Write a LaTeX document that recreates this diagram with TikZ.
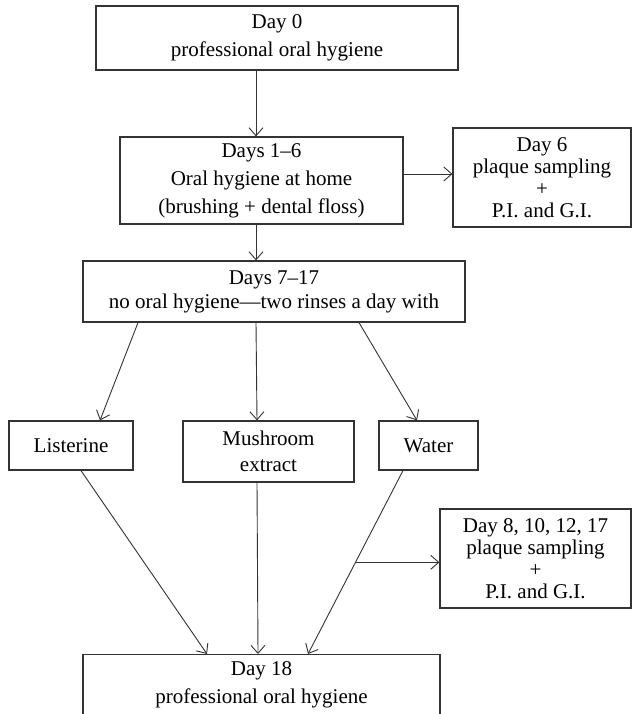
\documentclass[tikz,border=0pt]{standalone}
\usepackage{fontspec}
\setmainfont{Liberation Serif}
\usetikzlibrary{arrows.meta,calc}
\begin{document}
\begin{tikzpicture}[x=1pt,y=-1pt,
  box/.style={draw=black!80, line width=1.2pt, inner sep=0pt, align=center,
    font=\fontsize{21}{28}\selectfont},
  tight/.style={font=\fontsize{21}{22}\selectfont},
  arr/.style={draw=black!80, line width=0.9pt, -{Straight Barb[length=8pt,width=14pt]}},
  ln/.style={draw=black!80, line width=0.9pt}]
\useasboundingbox (0,0) rectangle (632,714);
\clip (0,0) rectangle (632,714);

\node[box, minimum width=362pt, minimum height=64pt] (top) at (277,38) {Day 0\\professional oral hygiene};
\node[box, minimum width=283pt, minimum height=87pt] (b2) at (261.5,180.5) {Days 1--6\\Oral hygiene at home\\(brushing + dental floss)};
\node[box, tight, minimum width=178pt, minimum height=99pt] (d6) at (542,177.5) {Day 6\\plaque sampling\\+\\P.I. and G.I.};
\node[box, font=\fontsize{21}{24}\selectfont, minimum width=382pt, minimum height=61pt] (b3) at (274,291.5) {Days 7--17\\no oral hygiene---two rinses a day with};
\node[box, minimum width=124pt, minimum height=49pt] (list) at (71,445.5) {Listerine};
\node[box, font=\fontsize{21}{26}\selectfont, minimum width=171pt, minimum height=61pt] (mush) at (268.5,451.5) {Mushroom\\extract};
\node[box, minimum width=99pt, minimum height=49pt] (water) at (428.5,445.5) {Water};
\node[box, tight, minimum width=191pt, minimum height=99pt] (d8) at (535.5,558.5) {Day 8, 10, 12, 17\\plaque sampling\\+\\P.I. and G.I.};
\node[box, anchor=north, minimum width=357pt, inner ysep=7pt, text depth=60pt] (d18) at (261.5,654) {Day 18\\professional oral hygiene};

\coordinate (cA) at (256,0);
\coordinate (cR) at (0,174);
\draw[arr] (top.south -| cA) -- (b2.north -| cA);
\draw[arr] (b2.east |- cR) -- (d6.west |- cR);
\draw[arr] (b2.south -| cA) -- (b3.north -| cA);

\coordinate (s1) at (138,0);
\coordinate (e1) at (100,0);
\coordinate (s3) at (359,0);
\coordinate (e3) at (417,0);
\coordinate (m1) at (257,0);
\draw[arr] (b3.south -| s1) -- (list.north -| e1);
\draw[arr] (b3.south -| cA) -- (mush.north -| m1);
\draw[arr] (b3.south -| s3) -- (water.north -| e3);

\coordinate (l1) at (81,0);
\coordinate (t1) at (207,0);
\coordinate (t2) at (258,0);
\coordinate (w1) at (403,0);
\coordinate (t3) at (308,0);
\draw[arr] (list.south -| l1) -- (d18.north -| t1);
\draw[arr] (mush.south -| m1) -- (d18.north -| t2);
\draw[arr] (water.south -| w1) -- (d18.north -| t3);
\coordinate (br) at ($(water.south -| w1)!0.5!(d18.north -| t3)$);
\draw[arr] (br) -- (d8.west |- br);
\end{tikzpicture}
\end{document}
